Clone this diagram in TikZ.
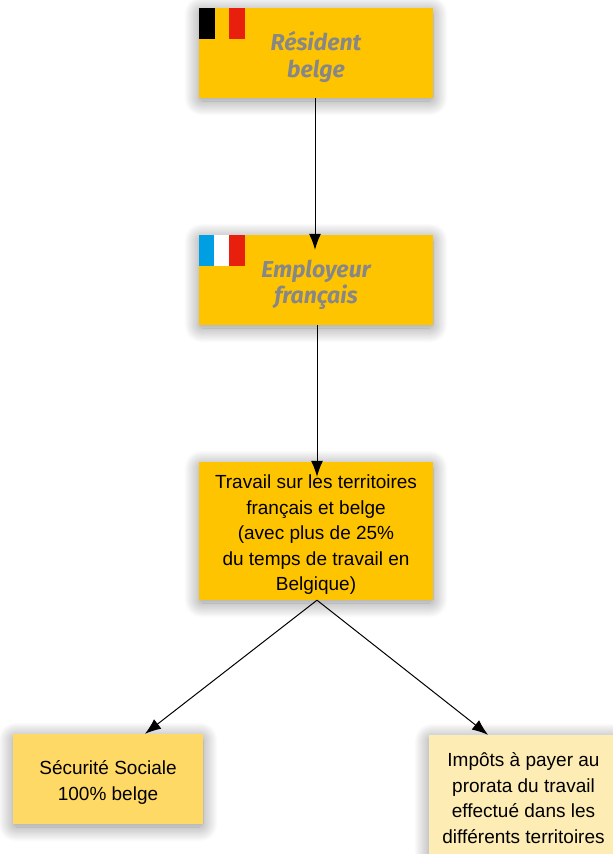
\documentclass[tikz,border=0pt]{standalone}
\usepackage{fontspec}
\setmainfont{Liberation Sans}
\newfontfamily\dinfont{Fira Sans}
\usepackage{tikz}
\usetikzlibrary{arrows.meta, shadows.blur}
\definecolor{boxgold}{HTML}{FFC400}
\definecolor{boxmid}{HTML}{FFD966}
\definecolor{boxpale}{HTML}{FEECB5}
\definecolor{flagblue}{HTML}{009FE3}
\definecolor{flagred}{HTML}{E71F0C}
\newcommand{\titlegap}{\rule{0pt}{27pt}}
\newcommand{\textgap}{\rule{0pt}{21pt}}
\begin{document}
\begin{tikzpicture}[x=1pt, y=-1pt,
        box/.style={fill=boxgold, minimum width=234pt, minimum height=90pt, inner sep=0pt, align=center,
            blur shadow={shadow xshift=0pt, shadow yshift=-3pt, shadow blur steps=20, shadow blur radius=15pt, shadow blur extra rounding=3pt, shadow opacity=45}},
        titlebox/.style={box, text=black!47, font=\dinfont\bfseries\itshape\fontsize{23}{26.5}\selectfont},
        textbox/.style={box, font=\fontsize{19}{25.5}\selectfont},
        flow/.style={-{Latex[length=16pt, width=12pt]}, line width=1pt}]
            \useasboundingbox (0,0) rectangle (613,854);
            \node (res) at (316,53) [titlebox] {\titlegap R\'esident\\belge};
            \node (emp) at (316,280) [titlebox] {\titlegap Employeur\\fran\c{c}ais};
            \node (tra) at (316,531) [textbox, minimum height=138pt] {\textgap Travail sur les territoires\\fran\c{c}ais et belge\\(avec plus de 25\%\\du temps de travail en\\Belgique)};
            \node (secu) at (108,779) [textbox, fill=boxmid, minimum width=190pt] {\textgap S\'ecurit\'e Sociale\\100\% belge};
            \node (imp) at (523.5,794.5) [textbox, fill=boxpale, minimum width=189pt, minimum height=119pt] {\textgap Imp\^ots \`a payer au\\prorata du travail\\effectu\'e dans les\\diff\'erents territoires};
            \fill[black] (res.north west) rectangle +(16,31);
            \fill[flagred] ([xshift=30pt]res.north west) rectangle +(16,31);
            \fill[flagblue] (emp.north west) rectangle +(15,31);
            \fill[white] ([xshift=15pt]emp.north west) rectangle +(15,31);
            \fill[flagred] ([xshift=30pt]emp.north west) rectangle +(16,31);
            \draw[flow, shorten >=-15pt] ([xshift=-1pt]res.south) -- ([xshift=-1pt]emp.north);
            \draw[flow, shorten >=-15pt] ([xshift=1pt]emp.south) -- ([xshift=1pt]tra.north);
            \draw[flow] ([xshift=1pt]tra.south) -- ([xshift=37pt]secu.north);
            \draw[flow] ([xshift=1pt]tra.south) -- ([xshift=-35.5pt]imp.north);
        \end{tikzpicture}
\end{document}
